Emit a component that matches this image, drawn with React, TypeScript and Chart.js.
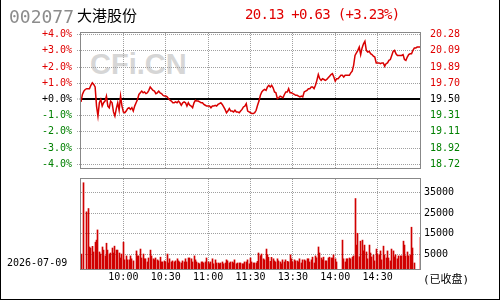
import React, { useEffect, useRef } from 'react';
import { Chart, registerables } from 'chart.js';

Chart.register(...registerables);

// ---------- data ----------
const STOCK_CODE = '002077';
const STOCK_NAME = '大港股份';
const QUOTE_TEXT = '20.13 +0.63 (+3.23%)';
const DATE_TEXT = '2026-07-09';
const STATUS_TEXT = '(已收盘)';
const WATERMARK = 'CFi.CN';
const PREV_CLOSE = 19.5;

// one price per minute, 09:30 .. 11:30 | 13:01 .. 15:00
const PRICES = [
  19.47, 19.56, 19.60, 19.62, 19.63, 19.63, 19.63, 19.67, 19.70, 19.68,
  19.65, 19.42, 19.30, 19.46, 19.50, 19.42, 19.46, 19.48, 19.54, 19.42,
  19.40, 19.48, 19.46, 19.35, 19.30, 19.39, 19.46, 19.37, 19.54, 19.42,
  19.35, 19.34, 19.36, 19.39, 19.40, 19.38, 19.40, 19.36, 19.42, 19.46,
  19.50, 19.56, 19.58, 19.60, 19.58, 19.59, 19.57, 19.58, 19.61, 19.65,
  19.63, 19.61, 19.60, 19.57, 19.58, 19.60, 19.58, 19.57, 19.55, 19.54,
  19.54, 19.53, 19.51, 19.49, 19.48, 19.46, 19.46, 19.47, 19.46, 19.48,
  19.46, 19.43, 19.46, 19.47, 19.46, 19.42, 19.46, 19.43, 19.42, 19.40,
  19.46, 19.49, 19.48, 19.48, 19.47, 19.46, 19.46, 19.44, 19.43, 19.42,
  19.42, 19.42, 19.40, 19.42, 19.42, 19.43, 19.42, 19.44, 19.45, 19.46,
  19.44, 19.41, 19.38, 19.34, 19.36, 19.39, 19.36, 19.36, 19.35, 19.37,
  19.35, 19.35, 19.34, 19.36, 19.38, 19.41, 19.42, 19.45, 19.36, 19.35,
  19.34,
  19.33, 19.33, 19.34, 19.37, 19.43, 19.48, 19.55, 19.59, 19.61, 19.62,
  19.61, 19.65, 19.67, 19.65, 19.67, 19.64, 19.59, 19.58, 19.51, 19.52,
  19.54, 19.53, 19.52, 19.56, 19.59, 19.59, 19.63, 19.58, 19.58, 19.57,
  19.56, 19.55, 19.55, 19.54, 19.53, 19.54, 19.53, 19.59, 19.60, 19.61,
  19.63, 19.63, 19.65, 19.65, 19.63, 19.67, 19.73, 19.80, 19.75, 19.73,
  19.75, 19.74, 19.73, 19.74, 19.76, 19.78, 19.80, 19.81, 19.77, 19.72,
  19.75, 19.75, 19.77, 19.79, 19.79, 19.77, 19.79, 19.79, 19.79, 19.79,
  19.82, 19.84, 19.91, 20.03, 20.06, 20.09, 20.13, 20.04, 20.12, 20.17,
  20.20, 20.09, 20.07, 20.08, 20.05, 20.04, 20.02, 20.01, 19.94, 19.94,
  19.94, 19.93, 19.94, 19.94, 19.90, 19.93, 19.94, 19.97, 19.98, 20.03,
  20.08, 20.09, 20.05, 20.03, 20.03, 20.03, 20.03, 20.04, 19.98, 19.97,
  20.01, 20.04, 20.05, 20.05, 20.09, 20.12, 20.12, 20.13, 20.13, 20.13,
];

// one volume per minute, same minutes as PRICES
const VOLUMES = [
  5300, 0, 39600, 0, 25600, 27200, 8700, 8200, 9000, 6300,
  11000, 12000, 16900, 6300, 5300, 8700, 7200, 4400, 10500, 7200,
  5300, 5800, 8200, 5800, 9100, 7200, 7200, 5800, 3400, 5300,
  11000, 2500, 4400, 2500, 2500, 4400, 3000, 2000, 0, 6800,
  4400, 4400, 7700, 3400, 5300, 3000, 3000, 1500, 3400, 7200,
  4400, 3000, 2500, 3400, 2500, 2000, 3800, 1500, 1500, 2000,
  1500, 5300, 1000, 3000, 1500, 2000, 1500, 2000, 3000, 2000,
  1500, 1000, 2000, 1500, 3000, 1500, 3400, 3400, 3000, 1500,
  4400, 2500, 1500, 1000, 600, 1500, 1500, 1000, 1500, 3400,
  1500, 600, 1500, 3000, 600, 2500, 1000, 1000, 600, 1000,
  1500, 600, 1000, 2500, 2000, 1000, 1500, 1500, 1000, 2500,
  600, 1000, 1000, 1000, 600, 600, 1500, 1500, 2500, 600,
  3400,
  1500, 1000, 1000, 1000, 1800, 5800, 4500, 5300, 3000, 2500,
  7700, 5000, 3700, 1800, 3700, 3000, 2000, 1500, 3000, 2000,
  1500, 600, 2500, 1500, 2500, 1800, 1500, 4900, 3000, 1500,
  2500, 2000, 2000, 1500, 3000, 1000, 2500, 2500, 2000, 3000,
  3000, 1500, 2500, 3800, 1000, 4400, 3500, 8700, 5800, 3400,
  2500, 3800, 2000, 2000, 3400, 3800, 3400, 3400, 4900, 3000,
  1500, 0, 0, 0, 12000, 3000, 1500, 3000, 3000, 3400,
  3000, 3800, 4400, 32000, 9600, 15300, 4000, 11500, 12000, 6800,
  9600, 6300, 3000, 9600, 5800, 3900, 4900, 2000, 7700, 5300,
  4900, 6800, 2500, 9100, 4900, 3400, 6800, 3400, 2000, 7700,
  6800, 3900, 4900, 3000, 4400, 4400, 4400, 11500, 9600, 4400,
  6300, 4400, 4900, 18200, 8200, 1000, 0, 0, 0, 13300,
];

const PCT_TICKS = [4, 3, 2, 1, 0, -1, -2, -3, -4];
const PCT_LABELS = ['+4.0%', '+3.0%', '+2.0%', '+1.0%', '+0.0%', '-1.0%', '-2.0%', '-3.0%', '-4.0%'];
const PRICE_LABELS = ['20.28', '20.09', '19.89', '19.70', '19.50', '19.31', '19.11', '18.92', '18.72'];
const VOL_TICKS = [5000, 15000, 25000, 35000];
const VOL_LABELS = ['5000', '15000', '25000', '35000'];
const TIME_TICKS = [30, 60, 90, 120, 150, 180, 210];
const TIME_LABELS = ['10:00', '10:30', '11:00', '11:30', '13:30', '14:00', '14:30'];

// ---------- style ----------
const PCT_MIN = -4.23;
const PCT_MAX = 4.1;
const VOL_MIN = -1900;
const VOL_MAX = 41400;
const RED = '#e00000';
const GREEN = '#008000';
const GRID = '#a0a0a0';
const FRAME = '#888888';
const MONO = "'DejaVu Sans Mono', monospace";

const isZero = (v: number) => Math.abs(v) < 1e-9;

const panelBox = {
  id: 'panelBox',
  afterDraw(chart: any) {
    const { ctx, chartArea: a } = chart;
    ctx.save();
    ctx.strokeStyle = FRAME;
    ctx.lineWidth = 1;
    const l = Math.round(a.left) - 0.5;
    const t = Math.round(a.top) - 0.5;
    const r = Math.round(a.right) + 0.5;
    const b = Math.round(a.bottom) + 0.5;
    ctx.strokeRect(l, t, r - l, b - t);
    ctx.restore();
  },
};

// snap the 1px volume bars to whole pixels so they render crisp
const snapBars = {
  id: 'snapBars',
  afterDatasetsUpdate(chart: any) {
    chart.data.datasets.forEach((_: any, i: number) => {
      const meta = chart.getDatasetMeta(i);
      if (meta.type !== 'bar') return;
      meta.data.forEach((el: any) => {
        el.x = Math.floor(el.x) + 0.5;
      });
    });
  },
};

const noPad = (s: any) => {
  s.paddingTop = 0;
  s.paddingBottom = 0;
  s.paddingLeft = 0;
  s.paddingRight = 0;
};

const timeAxisBase = {
  type: 'linear' as const,
  min: 0,
  max: PRICES.length - 1,
  offset: false,
  afterBuildTicks: (s: any) => {
    s.ticks = TIME_TICKS.map((v) => ({ value: v }));
  },
  grid: { color: GRID, lineWidth: 1, drawTicks: false, offset: false },
  border: { display: false, dash: [1, 1] },
};

export default function App() {
  const priceRef = useRef<HTMLCanvasElement>(null);
  const volRef = useRef<HTMLCanvasElement>(null);

  useEffect(() => {
    const priceMin = PREV_CLOSE * (1 + PCT_MIN / 100);
    const priceMax = PREV_CLOSE * (1 + PCT_MAX / 100);
    const priceTickVals = PCT_TICKS.map((p) => PREV_CLOSE * (1 + p / 100));

    const priceChart = new Chart(priceRef.current!, {
      type: 'line',
      data: {
        datasets: [
          {
            data: PRICES.map((p, i) => ({ x: i, y: p })),
            borderColor: '#d80000',
            borderWidth: 1.5,
            pointRadius: 0,
            tension: 0,
            yAxisID: 'y',
          },
        ],
      },
      options: {
        responsive: false,
        animation: false,
        devicePixelRatio: 1,
        layout: { padding: { top: 33, bottom: 7, left: 0, right: 0 } },
        plugins: { legend: { display: false }, tooltip: { enabled: false } },
        scales: {
          x: {
            ...timeAxisBase,
            ticks: { display: false },
            afterFit: (s: any) => {
              s.height = 0;
              noPad(s);
            },
          },
          yp: {
            type: 'linear',
            position: 'left',
            min: PCT_MIN,
            max: PCT_MAX,
            afterBuildTicks: (s: any) => {
              s.ticks = [...PCT_TICKS].reverse().map((v) => ({ value: v }));
            },
            ticks: {
              autoSkip: false,
              padding: 5,
              font: { family: MONO, size: 10 },
              color: (ctx: any) => (isZero(ctx.tick.value) ? '#000' : ctx.tick.value > 0 ? RED : GREEN),
              callback: (v: any) => PCT_LABELS[PCT_TICKS.indexOf(Number(v))],
            },
            grid: {
              color: (ctx: any) => (ctx.tick && isZero(ctx.tick.value) ? '#000000' : GRID),
              lineWidth: (ctx: any) => (ctx.tick && isZero(ctx.tick.value) ? 2 : 1),
              drawTicks: true,
              tickLength: 4,
              tickColor: GRID,
              tickWidth: 1,
              tickBorderDash: [1, 1],
            },
            border: {
              display: false,
              dash: (ctx: any) => (ctx.tick && isZero(ctx.tick.value) ? [] : [1, 1]),
            },
            afterFit: (s: any) => {
              s.width = 81;
              noPad(s);
            },
          },
          y: {
            type: 'linear',
            position: 'right',
            min: priceMin,
            max: priceMax,
            afterBuildTicks: (s: any) => {
              s.ticks = [...priceTickVals].reverse().map((v) => ({ value: v }));
            },
            ticks: {
              autoSkip: false,
              padding: 2,
              font: { family: MONO, size: 10 },
              color: (ctx: any) =>
                Math.abs(ctx.tick.value - PREV_CLOSE) < 1e-6 ? '#000' : ctx.tick.value > PREV_CLOSE ? RED : GREEN,
              callback: (v: any) => {
                const i = priceTickVals.findIndex((t) => Math.abs(t - Number(v)) < 1e-6);
                return PRICE_LABELS[i];
              },
            },
            grid: { display: false },
            border: { display: false },
            afterFit: (s: any) => {
              s.width = 80;
              noPad(s);
            },
          },
        },
      } as any,
      plugins: [panelBox],
    });

    const volChart = new Chart(volRef.current!, {
      type: 'bar',
      data: {
        datasets: [
          {
            data: VOLUMES.map((v, i) => ({ x: i, y: v > 0 ? v : null })),
            backgroundColor: '#d00000',
            borderWidth: 0,
            barThickness: 1,
            base: VOL_MIN,
            yAxisID: 'y',
          } as any,
        ],
      },
      options: {
        responsive: false,
        animation: false,
        devicePixelRatio: 1,
        layout: { padding: { top: 3, bottom: 0, left: 81, right: 0 } },
        plugins: { legend: { display: false }, tooltip: { enabled: false } },
        scales: {
          x: {
            ...timeAxisBase,
            ticks: {
              autoSkip: false,
              maxRotation: 0,
              padding: 2,
              color: '#000',
              font: { family: MONO, size: 10 },
              callback: (v: any) => TIME_LABELS[TIME_TICKS.indexOf(Number(v))],
            },
            afterFit: (s: any) => {
              s.height = 31;
              noPad(s);
            },
          },
          y: {
            type: 'linear',
            position: 'right',
            min: VOL_MIN,
            max: VOL_MAX,
            afterBuildTicks: (s: any) => {
              s.ticks = VOL_TICKS.map((v) => ({ value: v }));
            },
            ticks: {
              autoSkip: false,
              padding: 4,
              color: '#000',
              font: { family: MONO, size: 10 },
              callback: (v: any) => VOL_LABELS[VOL_TICKS.indexOf(Number(v))],
            },
            grid: { color: GRID, lineWidth: 1, drawTicks: false },
            border: { display: false, dash: [1, 1] },
            afterFit: (s: any) => {
              s.width = 80;
              noPad(s);
            },
          },
        },
      } as any,
      plugins: [snapBars, panelBox],
    });

    return () => {
      priceChart.destroy();
      volChart.destroy();
    };
  }, []);

  const abs = (o: React.CSSProperties): React.CSSProperties => ({ position: 'absolute', whiteSpace: 'nowrap', ...o });

  return (
    <div style={{ position: 'absolute', left: 0, top: 0, width: 500, height: 300, background: '#fff', overflow: 'hidden' }}>
      <div
        style={abs({
          left: 90,
          top: 50,
          fontFamily: "'Liberation Sans', Arial, sans-serif",
          fontWeight: 'bold',
          fontSize: 29,
          lineHeight: '29px',
          color: '#d6d6d6',
        })}
      >
        {WATERMARK}
      </div>
      <canvas ref={priceRef} width={500} height={175} style={{ position: 'absolute', left: 0, top: 0 }} />
      <canvas ref={volRef} width={500} height={124} style={{ position: 'absolute', left: 0, top: 176 }} />
      <div style={abs({ left: 9, top: 8, fontFamily: MONO, fontSize: 18, lineHeight: '18px', color: '#8c8c8c' })}>
        {STOCK_CODE}
      </div>
      <div style={abs({ left: 77, top: 7, fontFamily: "'Noto Sans CJK SC', sans-serif", fontSize: 15, lineHeight: '15px', color: '#000' })}>
        {STOCK_NAME}
      </div>
      <div
        style={abs({ left: 245, top: 7, fontFamily: MONO, fontSize: 14, lineHeight: '14px', letterSpacing: '-0.7px', color: RED })}
      >
        {QUOTE_TEXT}
      </div>
      <div style={abs({ left: 7, top: 258, fontFamily: MONO, fontSize: 10, lineHeight: '10px', color: '#000' })}>
        {DATE_TEXT}
      </div>
      <div
        style={abs({
          left: 423,
          top: 274,
          fontFamily: "'DejaVu Sans Mono', 'Noto Sans CJK SC', monospace",
          fontSize: 11,
          lineHeight: '11px',
          color: '#000',
        })}
      >
        {STATUS_TEXT}
      </div>
      <div
        style={{
          position: 'absolute',
          left: 0,
          top: 0,
          width: 500,
          height: 300,
          boxSizing: 'border-box',
          borderLeft: '1px solid #000',
          borderRight: '1px solid #000',
          borderBottom: '1px solid #000',
          pointerEvents: 'none',
        }}
      />
    </div>
  );
}
